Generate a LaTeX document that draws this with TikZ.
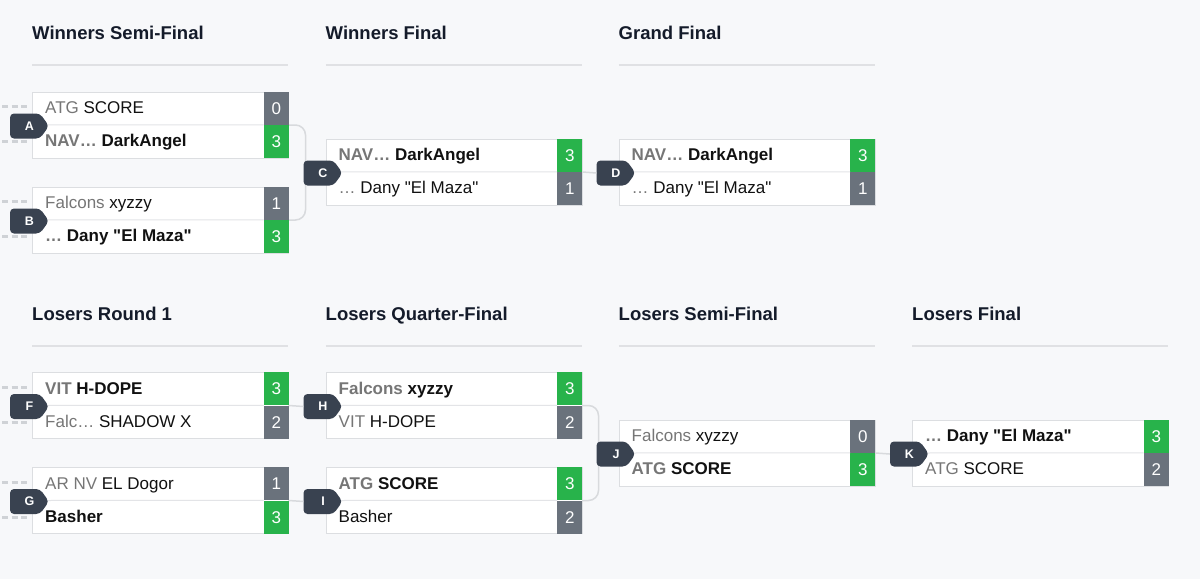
\documentclass[tikz,border=0pt]{standalone}
\usepackage{fontspec}
\setmainfont{Liberation Sans}[Ligatures=TeXOff]
\usetikzlibrary{calc}
\definecolor{bgc}{HTML}{F7F8FA}
\definecolor{bordc}{HTML}{DCDEE1}
\definecolor{divc}{HTML}{E3E4E7}
\definecolor{sgray}{HTML}{6A727C}
\definecolor{sgreen}{HTML}{28B34B}
\definecolor{tagc}{HTML}{394250}
\definecolor{hdrc}{HTML}{141B2A}
\definecolor{teamc}{HTML}{767676}
\definecolor{txtc}{HTML}{111111}
\definecolor{connc}{HTML}{D8DADD}
\definecolor{dashc}{HTML}{CFD2D6}
\definecolor{hlc}{HTML}{E0E1E4}
\newcommand\tmn[1]{\textcolor{teamc}{#1}}
\tikzset{
  mbox/.style={draw=bordc, line width=1pt, fill=white, minimum width=256pt, minimum height=66pt, inner sep=0pt},
  sbox/.style={minimum width=25pt, minimum height=33pt, inner sep=0pt, text=white, font=\fontsize{17}{20}\selectfont},
  divl/.style={draw=divc, line width=1pt},
  rtxt/.style={anchor=base west, inner sep=0pt, text=txtc, font=\fontsize{17}{20}\selectfont},
  hdr/.style={anchor=base west, inner sep=0pt, text=hdrc, font=\fontsize{18.5}{22}\selectfont\bfseries},
  hline/.style={draw=hlc, line width=1.5pt},
  tagbox/.style={shape=rectangle, minimum width=39pt, minimum height=25pt, inner sep=0pt, text=white, font=\fontsize{12.5}{14}\selectfont\bfseries},
  tagfill/.style={fill=tagc, rounded corners=4pt},
  conn/.style={draw=connc, line width=1.5pt, rounded corners=10pt},
  stub/.style={draw=dashc, line width=3pt, dash pattern=on 6pt off 3.5pt}
}
\newcommand\mymatch[9]{%
  \node[mbox, anchor=north west] (m#1) at (#2,#3) {};
  \node[sbox, fill=#6, anchor=north east] (m#1s1) at (m#1.north east) {#5};
  \node[sbox, fill=#9, anchor=south east] (m#1s2) at (m#1.south east) {#8};
  \draw[divl] (m#1.west) -- (m#1s1.south west);
  \node[rtxt] (m#1t1) at ($(m#1.north west)+(13,22)$) {#4};
  \node[rtxt] (m#1t2) at ($(m#1.north west)+(13,55)$) {#7};
}
\newcommand\mystubs[1]{%
  \coordinate (d#1a) at ($(m#1.north west)+(-30,15)$);
  \coordinate (d#1b) at ($(m#1.north west)+(-3,15)$);
  \coordinate (d#1c) at ($(m#1.north west)+(-30,50)$);
  \coordinate (d#1d) at ($(m#1.north west)+(-3,50)$);
  \draw[stub] (d#1a) -- (d#1b);
  \draw[stub] (d#1c) -- (d#1d);
}
\begin{document}
\begin{tikzpicture}[x=1pt,y=-1pt]
\useasboundingbox (0,0) rectangle (1200,579);
\fill[bgc] (0,0) rectangle (1200,579);
% headers
\node[hdr] (h1) at (32,39.5) {Winners Semi-Final};
\node[hdr] (h2) at (325.5,39.5) {Winners Final};
\node[hdr] (h3) at (618.5,39.5) {Grand Final};
\draw[hline] (32,65) -- (288,65);
\draw[hline] (325.5,65) -- (581.5,65);
\draw[hline] (618.5,65) -- (874.5,65);
\node[hdr] (h5) at (32,320.5) {Losers Round 1};
\node[hdr] (h6) at (325.5,320.5) {Losers Quarter-Final};
\node[hdr] (h7) at (618.5,320.5) {Losers Semi-Final};
\node[hdr] (h8) at (912,320.5) {Losers Final};
\draw[hline] (32,346) -- (288,346);
\draw[hline] (325.5,346) -- (581.5,346);
\draw[hline] (618.5,346) -- (874.5,346);
\draw[hline] (912,346) -- (1168,346);
% matches
\mymatch{A}{32}{91.5}{\tmn{ATG} SCORE}{0}{sgray}{\bfseries\tmn{NAV…} DarkAngel}{3}{sgreen}
\mymatch{B}{32}{186.5}{\tmn{Falcons} xyzzy}{1}{sgray}{\bfseries\tmn{…} Dany "El Maza"}{3}{sgreen}
\mymatch{C}{325.5}{138.5}{\bfseries\tmn{NAV…} DarkAngel}{3}{sgreen}{\tmn{…} Dany "El Maza"}{1}{sgray}
\mymatch{D}{618.5}{138.5}{\bfseries\tmn{NAV…} DarkAngel}{3}{sgreen}{\tmn{…} Dany "El Maza"}{1}{sgray}
\mymatch{F}{32}{372}{\bfseries\tmn{VIT} H-DOPE}{3}{sgreen}{\tmn{Falc…} SHADOW X}{2}{sgray}
\mymatch{G}{32}{467}{\tmn{AR NV} EL Dogor}{1}{sgray}{\bfseries Basher}{3}{sgreen}
\mymatch{H}{325.5}{372}{\bfseries\tmn{Falcons} xyzzy}{3}{sgreen}{\tmn{VIT} H-DOPE}{2}{sgray}
\mymatch{I}{325.5}{467}{\bfseries\tmn{ATG} SCORE}{3}{sgreen}{Basher}{2}{sgray}
\mymatch{J}{618.5}{419.5}{\tmn{Falcons} xyzzy}{0}{sgray}{\bfseries\tmn{ATG} SCORE}{3}{sgreen}
\mymatch{K}{912}{419.5}{\bfseries\tmn{…} Dany "El Maza"}{3}{sgreen}{\tmn{ATG} SCORE}{2}{sgray}
% stubs
\mystubs{A}\mystubs{B}\mystubs{F}\mystubs{G}
% label positions
\foreach \m in {A,B,C,D,F,G,H,I,J,K}{
  \coordinate (p\m) at ($(m\m.west)+(-2.5,1)$);
}
% bracket connectors (drawn before labels)
\coordinate (xC) at ($(pC)+(-17.5,0)$);
\coordinate (xJ) at ($(pJ)+(-17.5,0)$);
\draw[conn] (mA.east) -- (mA.east -| xC) |- (mB.east);
\draw[conn] (mH.east) -- (mH.east -| xJ) |- (mI.east);
% labels
\foreach \m in {A,B,C,D,F,G,H,I,J,K}{
  \fill[tagfill] ($(p\m)+(-19.5,-12.5)$) -- ($(p\m)+(10.5,-12.5)$) -- ($(p\m)+(19.5,0)$) -- ($(p\m)+(10.5,12.5)$) -- ($(p\m)+(-19.5,12.5)$) -- cycle;
  \node[tagbox] (l\m) at (p\m) {\m\hspace{9pt}};
}
\draw[conn] (mC.east) -- (lD.west);
\draw[conn] (mF.east) -- (lH.west);
\draw[conn] (mG.east) -- (lI.west);
\draw[conn] (mJ.east) -- (lK.west);
\end{tikzpicture}
\end{document}
